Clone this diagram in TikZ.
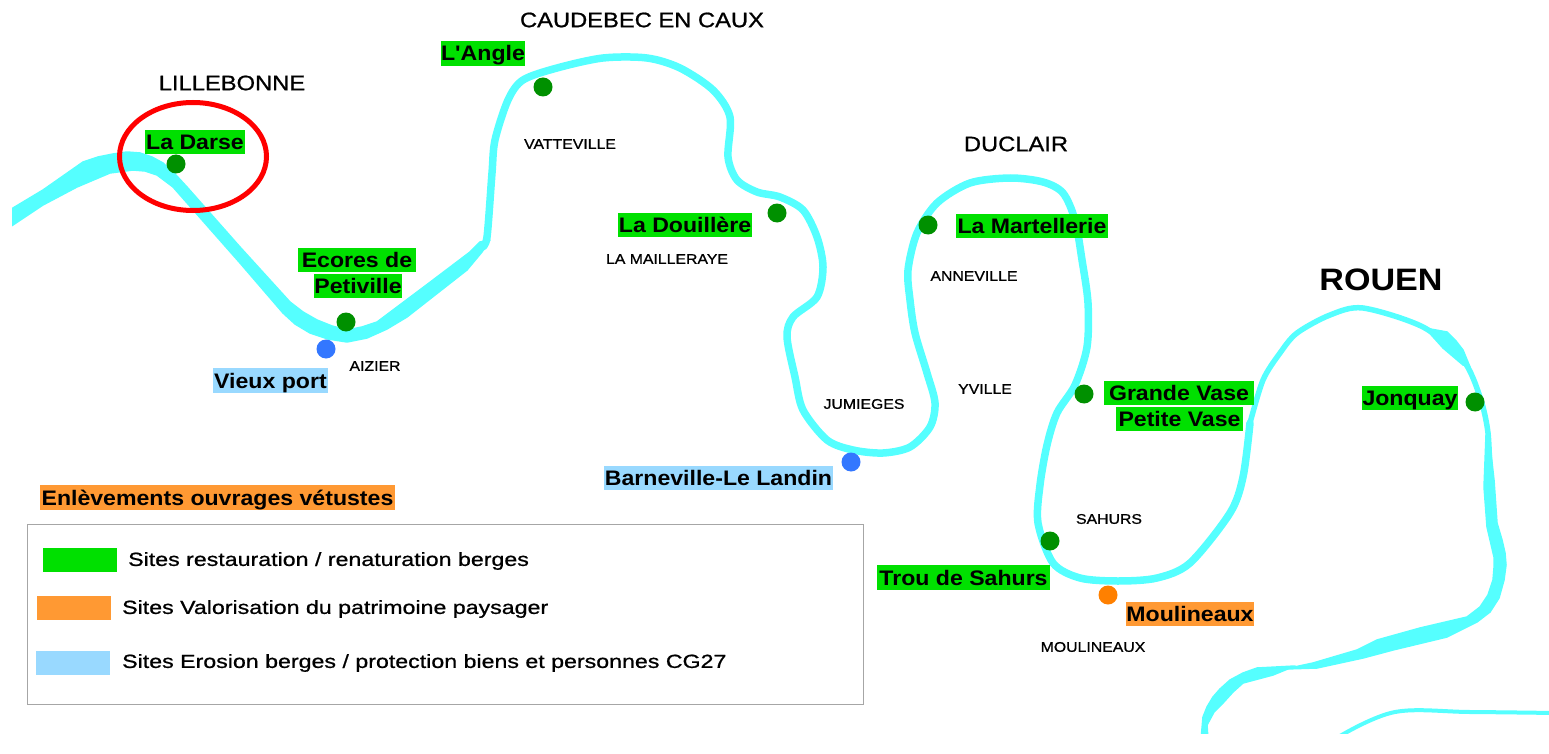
\documentclass[tikz,border=0pt]{standalone}
\usepackage{fontspec}
\usetikzlibrary{shapes.geometric}
\setmainfont[FakeStretch=1.1,Ligatures=TeXOff]{Liberation Sans}
\newfontfamily\townfont[FakeStretch=1.13,FakeBold=0.9]{Liberation Sans}
\newfontfamily\legfont[FakeStretch=1.22,FakeBold=0.8]{Liberation Sans}
\definecolor{river}{HTML}{55FFFF}
\definecolor{lgreen}{HTML}{00E000}
\definecolor{dgreen}{HTML}{009000}
\definecolor{dblue}{HTML}{3377FF}
\definecolor{dorange}{HTML}{FF8000}
\definecolor{lorange}{HTML}{FF9933}
\definecolor{lblue}{HTML}{99D9FF}
\tikzset{
 site/.style={inner sep=0pt,text height=17pt,text depth=2pt,font=\fontsize{21}{21}\selectfont\bfseries,text=black},
 greenlab/.style={site,fill=lgreen},
 orangelab/.style={site,fill=lorange},
 bluelab/.style={site,fill=lblue},
 town/.style={inner sep=0pt,font=\townfont\fontsize{21}{21}\selectfont,text=black},
 village/.style={inner sep=0pt,font=\townfont\fontsize{14}{14}\selectfont,text=black},
 dot/.style={circle,inner sep=0pt,minimum size=19pt},
 swatch/.style={inner sep=0pt,minimum width=74pt,minimum height=24pt},
 legendtext/.style={inner sep=0pt,anchor=west,font=\legfont\fontsize{19}{19}\selectfont,text=black},
 riv/.style={river,line join=round,line cap=round},
 blob/.style={fill=river,draw=river,line width=1.5pt,line join=round}
}
\begin{document}
\begin{tikzpicture}[x=1pt,y=-1pt]
\useasboundingbox (0,0) rectangle (1549,754);
% river
\begin{scope}
\clip (12,0) rectangle (1549,733);
\path[blob] plot[sharp cycle] coordinates {(3,214)(13,208)(43,190)(83,162)(98,157)(113,154)(127,152)(140,153)(152,157)(163,163)(175,174)(187,187)(240,247)(290,302)(303,312)(317,320)(332,326)(347,330)(362,327)(377,322)(433,280)(470,252)(480,242)(490,240)(482,252)(467,270)(407,317)(387,329)(367,338)(347,342)(328,339)(310,333)(295,324)(283,313)(240,263)(173,187)(157,175)(145,171)(133,170)(110,173)(77,187)(43,205)(13,225)(3,231)};
\draw[riv,line width=7.5pt] plot[smooth,tension=0.5] coordinates {(482,247)(487,237)(492,173)(495,140)(508,100)(523,80)(557,68)(603,58)(647,58)(680,68)(713,90)(730,117)(728,157)(737,180)(757,192)(780,197)(803,210)(817,237)(823,267)(817,297)(793,317)(787,337)(795,377)(803,410)(827,440)(853,450)(883,453)(910,447)(930,427)(935,403)(927,373)(915,333)(910,300)(908,270)(917,233)(937,203)(970,183)(1010,178)(1043,182)(1063,193)(1075,220)(1082,260)(1088,303)(1087,347)(1075,385)(1057,413)(1047,445)(1040,485)(1038,523)(1053,563)(1080,578)(1118,581)(1157,578)(1190,563)(1230,513)(1243,477)(1250,423)};
\draw[riv,line width=5.5pt] plot[smooth,tension=0.5] coordinates {(1250,423)(1263,380)(1280,353)(1297,333)(1330,315)(1363,308)(1423,327)(1463,360)(1480,397)(1488,433)(1490,480)};
\path[blob] plot[sharp cycle] coordinates {(1425,328)(1447,332)(1456,341)(1463,350)(1470,367)(1463,365)(1443,348)};
\path[blob] plot[sharp cycle] coordinates {(1489,435)(1494,480)(1497,523)(1502,540)(1505,553)(1506,565)(1504,580)(1499,598)(1490,612)(1477,622)(1447,637)(1393,650)(1363,658)(1317,668)(1285,669)(1313,663)(1357,650)(1377,640)(1420,628)(1467,617)(1480,607)(1488,595)(1493,580)(1494,568)(1494,557)(1487,527)(1484,487)(1486,435)};
\path[blob] plot[sharp cycle] coordinates {(1295,666)(1257,668)(1243,673)(1230,680)(1220,689)(1213,697)(1207,707)(1203,717)(1201,740)(1208,740)(1207,725)(1214,712)(1223,703)(1233,692)(1243,683)(1273,675)};
\draw[riv,line width=4pt] plot[smooth,tension=0.6] coordinates {(1340,736)(1395,712)(1470,712)(1555,713)};
\end{scope}
% circle
\node[draw=red,line width=5pt,ellipse,minimum width=147pt,minimum height=108pt,inner sep=0pt] (halo) at (193,156.5) {};
% dots
\node[dot,fill=dgreen] (d1) at (176,164) {};
\node[dot,fill=dgreen] (d2) at (346,322) {};
\node[dot,fill=dgreen] (d3) at (543,87) {};
\node[dot,fill=dgreen] (d4) at (777,213) {};
\node[dot,fill=dgreen] (d5) at (928,225) {};
\node[dot,fill=dgreen] (d6) at (1084,394) {};
\node[dot,fill=dgreen] (d7) at (1475,402) {};
\node[dot,fill=dgreen] (d8) at (1050,541) {};
\node[dot,fill=dblue] (b1) at (326,349) {};
\node[dot,fill=dblue] (b2) at (851,462) {};
\node[dot,fill=dorange] (o1) at (1108,595) {};
% site labels
\node[greenlab,minimum width=100pt,minimum height=24pt] (darse) at (195,142) {La Darse};
\node[greenlab,minimum width=84pt,minimum height=25pt] (angle) at (483,53.5) {L'Angle};
\node[greenlab,minimum width=118pt,minimum height=24pt] (ecores) at (357,260) {Ecores de};
\node[greenlab,minimum width=88pt,minimum height=24pt] (petiville) at (358,286) {Petiville};
\node[bluelab,minimum width=115pt,minimum height=25pt] (vieux) at (270.5,380.5) {Vieux port};
\node[greenlab,minimum width=134pt,minimum height=24pt] (douil) at (685,225) {La Douillère};
\node[greenlab,minimum width=152pt,minimum height=24pt] (martel) at (1032,226) {La Martellerie};
\node[greenlab,minimum width=150pt,minimum height=24pt] (grande) at (1179,393) {Grande Vase\hspace{5pt}};
\node[greenlab,minimum width=127pt,minimum height=24pt] (petite) at (1179.5,419) {Petite Vase};
\node[greenlab,minimum width=96pt,minimum height=24pt] (jonq) at (1410,398) {Jonquay};
\node[bluelab,minimum width=229pt,minimum height=24pt] (barn) at (718.5,478) {Barneville-Le Landin};
\node[greenlab,minimum width=173pt,minimum height=25pt] (trou) at (963.5,577.5) {Trou de Sahurs};
\node[orangelab,minimum width=128pt,minimum height=24pt] (moul) at (1190,614) {Moulineaux};
\node[orangelab,minimum width=355pt,minimum height=25pt] (enlev) at (217.5,497.5) {Enlèvements ouvrages vétustes};
% town labels
\node[town] (lille) at (232,83) {LILLEBONNE};
\node[town] (caud) at (642,20) {CAUDEBEC EN CAUX};
\node[town] (duc) at (1016,144) {DUCLAIR};
\node[town,font=\fontsize{31}{31}\selectfont\bfseries] (rouen) at (1381,280) {ROUEN};
\node[village] (vatt) at (570,144) {VATTEVILLE};
\node[village] (mail) at (667,259) {LA MAILLERAYE};
\node[village] (aiz) at (375,366) {AIZIER};
\node[village] (anne) at (974,276) {ANNEVILLE};
\node[village] (yv) at (985,389) {YVILLE};
\node[village] (jum) at (864,404) {JUMIEGES};
\node[village] (sah) at (1109,519) {SAHURS};
\node[village] (moulv) at (1093,647) {MOULINEAUX};
% legend
\node[draw=black!35,line width=1pt,inner sep=0pt,minimum width=836pt,minimum height=180pt] (legend) at (445,614) {};
\node[swatch,fill=lgreen] (s1) at (80,559.5) {};
\node[swatch,fill=lorange] (s2) at (74,608) {};
\node[swatch,fill=lblue] (s3) at (72.5,663) {};
\node[legendtext] (t1) at (128,561) {Sites restauration / renaturation berges};
\node[legendtext] (t2) at (122,609) {Sites Valorisation du patrimoine paysager};
\node[legendtext] (t3) at (122,663) {Sites Erosion berges / protection biens et personnes CG27};
\end{tikzpicture}
\end{document}
